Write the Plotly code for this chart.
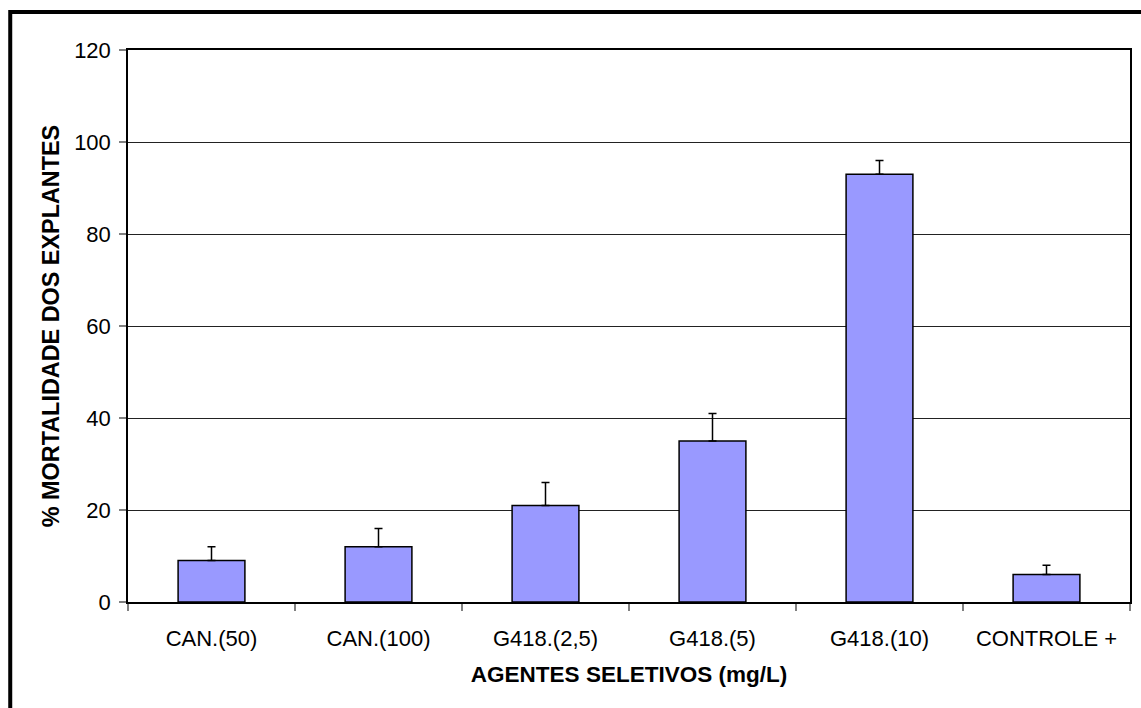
import plotly.graph_objects as go

categories = ["CAN.(50)", "CAN.(100)", "G418.(2,5)", "G418.(5)", "G418.(10)", "CONTROLE +"]
mortality = [9, 12, 21, 35, 93, 6]
error_plus = [3, 4, 5, 6, 3, 2]
y_ticks = [0, 20, 40, 60, 80, 100, 120]

W, H = 1141, 708
L, R, T, B = 128, 9, 50, 106
pw, ph = W - L - R, H - T - B

def px_x(x):
    return (x - L) / pw

def px_y(y):
    return (H - B - y) / ph

font = "Liberation Sans, Arial, sans-serif"

fig = go.Figure(
    go.Bar(
        x=categories,
        y=mortality,
        width=0.4,
        marker=dict(color="#9999FF", line=dict(color="#000000", width=1.5)),
        error_y=dict(type="data", symmetric=False, array=error_plus,
                     arrayminus=[0] * len(error_plus),
                     color="#000000", thickness=1.5, width=4),
    )
)

fig.update_layout(
    width=W, height=H,
    margin=dict(l=L, r=R, t=T, b=B, pad=0),
    paper_bgcolor="white", plot_bgcolor="white",
    showlegend=False,
    font=dict(family=font, size=22, color="#000000"),
    shapes=[dict(type="rect", xref="paper", yref="paper",
                 x0=px_x(10), x1=px_x(1160), y0=px_y(730), y1=px_y(12),
                 line=dict(color="#000000", width=4), fillcolor="rgba(0,0,0,0)",
                 layer="above")],
)

fig.update_xaxes(
    type="category",
    showline=True, linecolor="#000000", linewidth=1.5, mirror=True,
    ticks="outside", tickson="boundaries", ticklen=7, tickcolor="#808080", tickwidth=1.5,
    showgrid=False,
    tickfont=dict(size=22, family=font),
    ticklabelstandoff=16,
    title=dict(text="<b>AGENTES SELETIVOS (mg/L)</b>", font=dict(size=22.5, family=font), standoff=16),
)

fig.update_yaxes(
    range=[0, 120], tickvals=y_ticks,
    showline=True, linecolor="#000000", linewidth=1.5, mirror=True,
    ticks="outside", ticklen=7, tickcolor="#808080", tickwidth=1.5,
    showgrid=True, gridcolor="#222222", gridwidth=1,
    zeroline=False,
    tickfont=dict(size=22, family=font),
    ticklabelstandoff=4,
    title=dict(text="<b>% MORTALIDADE DOS EXPLANTES</b>", font=dict(size=23.4, family=font), standoff=8),
)

fig.write_html("out.html")
